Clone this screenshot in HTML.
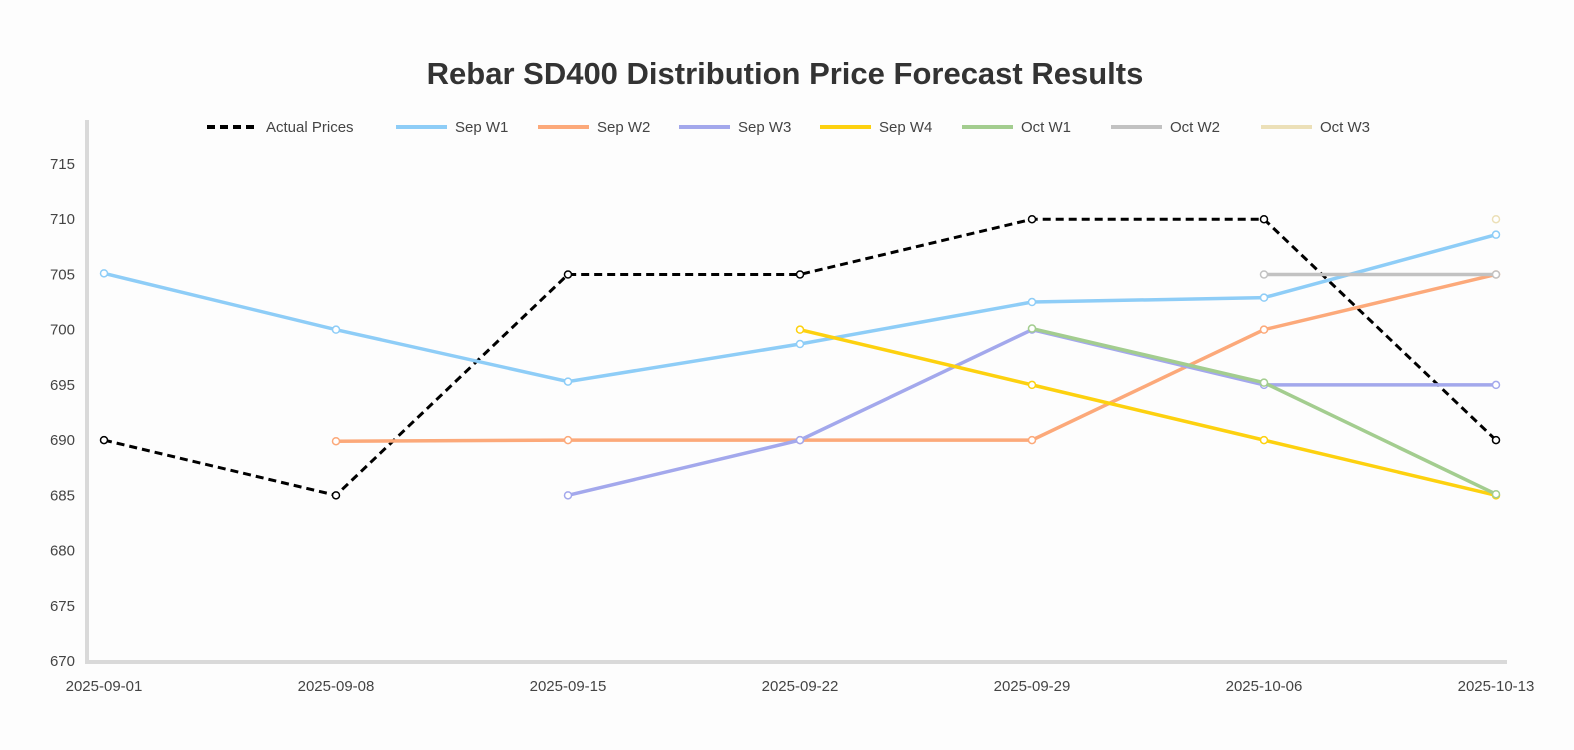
<!DOCTYPE html>
<html><head><meta charset="utf-8"><style>
body{margin:0;background:#fdfdfd;font-family:"Liberation Sans",sans-serif}
svg text{font-family:"Liberation Sans",sans-serif}
</style></head><body>
<svg width="1574" height="745">
<rect width="1574" height="745" fill="#fdfdfd"/>
<text x="785" y="84" text-anchor="middle" font-size="31" font-weight="bold" fill="#333">Rebar SD400 Distribution Price Forecast Results</text>
<g id="axes"></g><g id="series"></g><g id="legend"></g>
</svg>
<script>
const dates=["2025-09-01","2025-09-08","2025-09-15","2025-09-22","2025-09-29","2025-10-06","2025-10-13"];
const yTicks=[670,675,680,685,690,695,700,705,710,715];
const names=["Actual Prices","Sep W1","Sep W2","Sep W3","Sep W4","Oct W1","Oct W2","Oct W3"];
const colors=["#000","#8ecdf7","#fca97a","#a3a8ec","#fdd10f","#a3cd8f","#c2c2c2","#ece0b8"];
const actual=[690,685,705,705,710,710,690];
const sepW1=[705.1,700,695.3,698.7,702.5,702.9,708.6];
const sepW2=[null,689.9,690,690,690,700,705];
const sepW3=[null,null,685,690,700,695,695];
const sepW4=[null,null,null,700,695,690,685];
const octW1=[null,null,null,null,700.1,695.2,685.1];
const octW2=[null,null,null,null,null,705,705];
const octW3=[null,null,null,null,null,null,710];
const allSeries=[actual,sepW1,sepW2,sepW3,sepW4,octW1,octW2,octW3];
const NS="http://www.w3.org/2000/svg";
const x0=104,x1=1496,yMin=670,yMax=715,py0=661,py1=164;
const xs=i=>x0+i*(x1-x0)/(dates.length-1);
const ys=v=>py0-(v-yMin)/(yMax-yMin)*(py0-py1);
function mk(t,a,p){const e=document.createElementNS(NS,t);for(const k in a)e.setAttribute(k,a[k]);p.appendChild(e);return e;}
const ax=document.getElementById('axes');
let l=mk('line',{x1:87,y1:120,x2:87,y2:663,stroke:'#d9d9d9','stroke-width':4},ax);


l=mk('line',{x1:85,y1:662,x2:1507,y2:662,stroke:'#d9d9d9','stroke-width':4},ax);


yTicks.forEach(v=>{const t=mk('text',{x:75,y:ys(v)+5,'text-anchor':'end','font-size':15,fill:'#444'},ax);t.textContent=v;

});
dates.forEach((d,i)=>{const t=mk('text',{x:xs(i),y:691,'text-anchor':'middle','font-size':15,fill:'#444'},ax);t.textContent=d;

});
const sg=document.getElementById('series');
allSeries.forEach((s,k)=>{
 const g=mk('g',{},sg);
 
 
 const pts=[];s.forEach((v,i)=>{if(v!=null)pts.push([xs(i),ys(v)]);});
 if(pts.length>1){const p=mk('polyline',{points:pts.map(q=>q.join(',')).join(' '),fill:'none',stroke:colors[k],'stroke-width':k==0?3:3.5,'stroke-dasharray':k==0?'8,5':'none'},g);
 
 }
 pts.forEach(q=>{const c=mk('circle',{cx:q[0],cy:q[1],r:3.5,fill:'#fff',stroke:colors[k],'stroke-width':1.5},g);
 
 });
});
const lg=document.getElementById('legend');
const lx=[207,396,538,679,820,962,1111,1261];
names.forEach((n,k)=>{
 const g=mk('g',{},lg);
 
 
 mk('line',{x1:lx[k],y1:127,x2:lx[k]+51,y2:127,stroke:colors[k],'stroke-width':4,'stroke-dasharray':k==0?'8,5':'none'},g);
 const t=mk('text',{x:lx[k]+59,y:132,'font-size':15,fill:'#444'},g);t.textContent=n;
});
</script>
</body></html>
